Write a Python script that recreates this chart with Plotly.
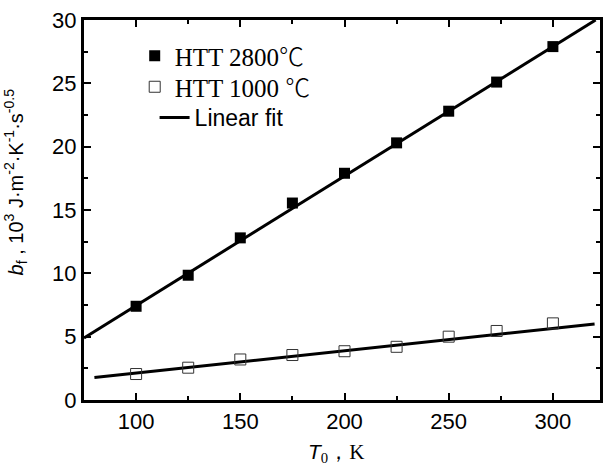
import plotly.graph_objects as go

# Data
t0 = [100, 125, 150, 175, 200, 225, 250, 273, 300]
bf_2800 = [7.4, 9.85, 12.8, 15.55, 17.9, 20.3, 22.8, 25.1, 27.9]
bf_1000 = [2.05, 2.55, 3.2, 3.55, 3.85, 4.2, 5.0, 5.45, 6.05]
fit_hi_x = [75, 320.5]
fit_hi_y = [4.9, 30.0]
fit_lo_x = [80, 320]
fit_lo_y = [1.78, 6.0]

W, H = 603, 469
ML, MR, MT, MB = 84, 0, 20, 69
pw = W - ML - MR
ph = H - MT - MB


def px_x(v):
    return (v - ML) / pw


def px_y(v):
    return 1 - (v - MT) / ph


fig = go.Figure()
fig.add_trace(go.Scatter(x=fit_hi_x, y=fit_hi_y, mode="lines",
                         line=dict(color="black", width=3),
                         name="Linear fit", showlegend=False))
fig.add_trace(go.Scatter(x=fit_lo_x, y=fit_lo_y, mode="lines",
                         line=dict(color="black", width=3),
                         name="Linear fit", legend="legend3"))
fig.add_trace(go.Scatter(x=t0, y=bf_2800, mode="markers",
                         marker=dict(symbol="square", size=11, color="black",
                                     line=dict(color="black", width=0)),
                         name='HTT 2800<span style="font-family:Noto Sans CJK SC;font-weight:300">℃</span>',
                         legend="legend"))
fig.add_trace(go.Scatter(x=t0, y=bf_1000, mode="markers",
                         marker=dict(symbol="square-open", size=11, color="#333333",
                                     line=dict(width=1)),
                         name='HTT 1000 <span style="font-family:Noto Sans CJK SC;font-weight:300">℃</span>',
                         legend="legend2"))

axis_common = dict(showgrid=False, zeroline=False, showline=True, linecolor="black",
                   linewidth=3, mirror="ticks", ticks="inside", ticklen=7, tickwidth=2,
                   tickcolor="black",
                   tickfont=dict(family="Liberation Sans, Arial", size=22, color="black"))

fig.update_xaxes(range=[75, 322.6], tickvals=[100, 150, 200, 250, 300],
                 minor=dict(tickvals=[125, 175, 225, 275], ticks="inside", ticklen=4,
                            tickwidth=2, tickcolor="black"),
                 **axis_common)
fig.update_yaxes(range=[0, 30], tickvals=[0, 5, 10, 15, 20, 25, 30],
                 minor=dict(tickvals=[2.5, 7.5, 12.5, 17.5, 22.5, 27.5], ticks="inside",
                            ticklen=4, tickwidth=2, tickcolor="black"),
                 **axis_common)

fig.add_annotation(xref="paper", yref="paper",
                   x=px_x(15), y=px_y(182),
                   text='<i>b</i><sub>f</sub> , 10<sup>3</sup> J·m<sup>-2</sup>·K<sup>-1</sup>·s<sup>-0.5</sup>',
                   textangle=-90, showarrow=False, xanchor="center", yanchor="middle",
                   font=dict(family="Liberation Sans, Arial", size=20, color="black"))
fig.add_annotation(xref="paper", yref="paper",
                   x=px_x(337), y=px_y(453),
                   text='<i>T</i><sub><span style="font-family:Liberation Serif">0</span></sub><span style="font-family:Liberation Serif">，K</span>',
                   showarrow=False, xanchor="center", yanchor="middle",
                   font=dict(family="Liberation Sans, Arial", size=21, color="black"))

leg_common = dict(xanchor="left", yanchor="top", bgcolor="rgba(0,0,0,0)",
                  borderwidth=0, itemwidth=30)
fig.update_layout(
    width=W, height=H,
    margin=dict(l=ML, r=MR, t=MT, b=MB),
    paper_bgcolor="white", plot_bgcolor="white",
    showlegend=True,
    legend=dict(x=px_x(135), y=px_y(33),
                font=dict(family="Liberation Serif", size=25, color="black"), **leg_common),
    legend2=dict(x=px_x(135), y=px_y(64),
                 font=dict(family="Liberation Serif", size=25, color="black"), **leg_common),
    legend3=dict(x=px_x(155), y=px_y(96),
                 font=dict(family="Liberation Sans, Arial", size=23, color="black"), **leg_common),
)

fig.write_html("out.html")
